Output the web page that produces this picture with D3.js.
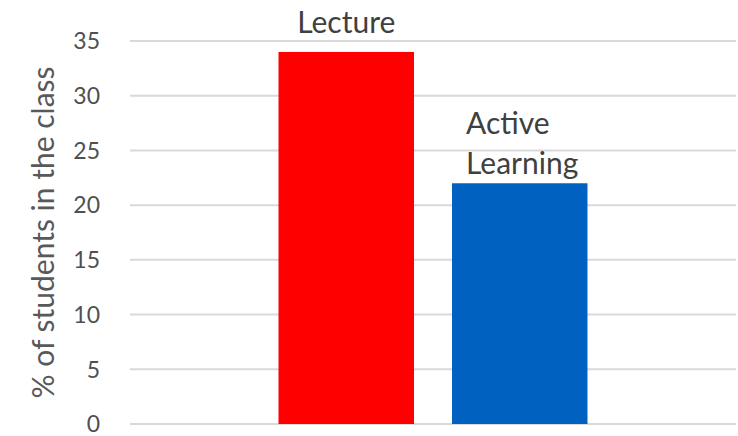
<!DOCTYPE html>
<html>
<head>
<meta charset="utf-8">
<script src="https://cdn.jsdelivr.net/npm/d3@7"></script>
<style>
  html, body { margin: 0; padding: 0; background: #fff; }
  svg { display: block; }
  text { font-family: Lato, "Open Sans", sans-serif; }
</style>
</head>
<body>
<svg id="chart" width="738" height="436"></svg>
<script>
// Share of students in the class, by teaching format
const series = ["Lecture", "Active Learning"];
const values = [34, 22];
const colors = ["#ff0000", "#0061c1"];
const yTicks = [0, 5, 10, 15, 20, 25, 30, 35];
const yTitle = "% of students in the class";
// label lines drawn above each bar
const labelLines = [["Lecture"], ["Active", "Learning"]];

const plot = { left: 130, right: 736, top: 41, bottom: 424 };

const svg = d3.select("#chart");

const y = d3.scaleLinear().domain([0, 35]).range([plot.bottom, plot.top]);
const x = d3.scaleBand()
  .domain(series)
  .range([plot.left, plot.right])
  .paddingInner(0.219)
  .paddingOuter(0.856);

// horizontal gridlines
svg.append("g")
  .selectAll("line")
  .data(yTicks)
  .join("line")
  .attr("x1", plot.left)
  .attr("x2", plot.right)
  .attr("y1", d => y(d))
  .attr("y2", d => y(d))
  .attr("stroke", "#d9d9d9")
  .attr("stroke-width", 2);

// y axis tick labels
const yAxis = d3.axisLeft(y).tickValues(yTicks).tickSize(0).tickPadding(0);
const gy = svg.append("g")
  .attr("transform", "translate(100,0)")
  .call(yAxis);
gy.select(".domain").remove();
gy.selectAll("text")
  .attr("fill", "#505050")
  .style("font-size", "23px")
  .attr("dy", "0.34em");

// y axis title
svg.append("text")
  .attr("transform", `translate(54,${(plot.top + plot.bottom) / 2}) rotate(-90)`)
  .attr("text-anchor", "middle")
  .attr("fill", "#595959")
  .style("font-size", "30px")
  .text(yTitle);

// bars
svg.append("g")
  .selectAll("rect")
  .data(series)
  .join("rect")
  .attr("x", d => x(d))
  .attr("width", x.bandwidth())
  .attr("y", (d, i) => y(values[i]))
  .attr("height", (d, i) => y(0) - y(values[i]))
  .attr("fill", (d, i) => colors[i]);

// bar labels
const lineH = 40;
// Lecture: centred above its bar
svg.append("text")
  .attr("x", x(series[0]) + x.bandwidth() / 2)
  .attr("y", y(values[0]) - 19)
  .attr("text-anchor", "middle")
  .attr("fill", "#404040")
  .style("font-size", "30px")
  .text(labelLines[0][0]);

// Active Learning: two lines, left side indented into the bar
const t2 = svg.append("text")
  .attr("fill", "#404040")
  .style("font-size", "30px");
labelLines[1].forEach((line, k) => {
  t2.append("tspan")
    .attr("x", x(series[1]) + 14)
    .attr("y", y(values[1]) - 9 - (labelLines[1].length - 1 - k) * lineH)
    .text(line);
});
</script>
</body>
</html>
